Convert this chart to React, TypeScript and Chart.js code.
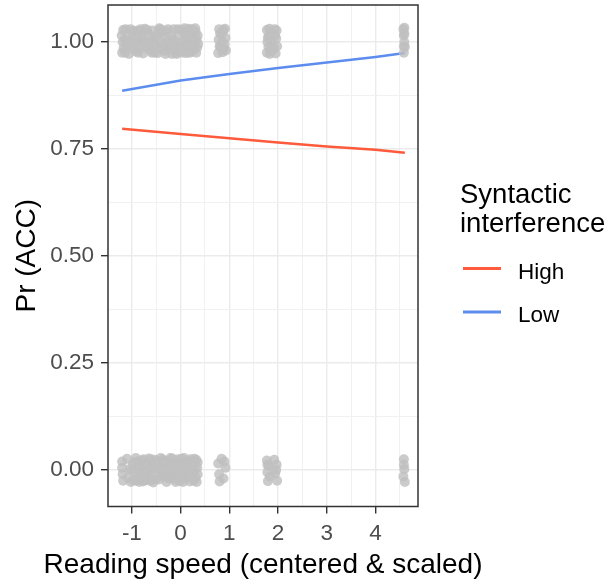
import React, { useEffect, useRef } from 'react';
import { Chart, registerables } from 'chart.js';

Chart.register(...registerables);

const FONT = '"Liberation Sans", Arial, "DejaVu Sans", sans-serif';

// ---- axis / text ----
const X_TITLE = 'Reading speed (centered & scaled)';
const Y_TITLE = 'Pr (ACC)';
const LEGEND_TITLE = ['Syntactic', 'interference'];
const SERIES_NAMES = ['High', 'Low'];
const SERIES_COLORS = ['#FF5A3C', '#5C8DEE'];

const X_MIN = -1.49;
const X_MAX = 4.87;
const Y_MIN = -0.0853;
const Y_MAX = 1.0864;
const xGridValues = [-1, -0.5, 0, 0.5, 1, 1.5, 2, 2.5, 3, 3.5, 4, 4.5];
const xTickLabels = ['-1', '0', '1', '2', '3', '4'];
const yGridValues = [0, 0.125, 0.25, 0.375, 0.5, 0.625, 0.75, 0.875, 1];
const yTickLabels = ['0.00', '0.25', '0.50', '0.75', '1.00'];

// ---- fitted lines ----
const lineX = [-1.2, 0, 1, 2, 3, 4, 4.6];
const highY = [0.797, 0.785, 0.775, 0.765, 0.756, 0.748, 0.741];
const lowY = [0.886, 0.91, 0.925, 0.939, 0.952, 0.965, 0.974];

// ---- jittered raw observations (ACC = 1) ----
const correctPoints: [number, number][] = [
  [-1.2, 0.975], [-1.19, 1.0], [-1.18, 1.028], [-1.12, 0.988], [-1.1, 1.015], [-1.06, 0.972],
  [-1.03, 1.03], [-0.98, 0.995], [-0.95, 1.012], [-0.92, 0.978], [-0.88, 1.026], [-0.84, 0.99],
  [-0.8, 1.008], [-0.77, 0.973], [-0.73, 1.031], [-0.7, 0.996], [-0.66, 1.018], [-0.62, 0.98],
  [-0.58, 1.027], [-0.55, 0.992], [-0.51, 1.01], [-0.47, 0.974], [-0.44, 1.032], [-0.4, 0.998],
  [-0.36, 1.016], [-0.33, 0.979], [-0.29, 1.025], [-0.25, 0.988], [-0.21, 1.006], [-0.18, 0.972],
  [-0.14, 1.03], [-0.1, 0.994], [-0.06, 1.014], [-0.03, 0.977], [0.01, 1.028], [0.05, 0.99],
  [0.09, 1.009], [0.12, 0.974], [0.16, 1.031], [0.2, 0.997], [0.24, 1.017], [0.27, 0.981],
  [0.31, 1.024], [0.34, 0.987], [0.33, 1.005], [-1.15, 1.005], [-1.01, 0.985], [-0.86, 1.003],
  [-0.68, 0.985], [-0.53, 0.975], [-0.38, 1.021], [-0.23, 0.983], [-0.08, 0.972], [0.07, 1.022],
  [0.22, 0.978], [0.3, 1.032], [-1.17, 0.985], [-0.97, 1.026], [-0.75, 1.0], [-0.6, 1.004],
  [-0.42, 0.985], [-0.27, 1.0], [-0.12, 1.002], [0.03, 1.0], [0.18, 1.005], [0.28, 1.0],
  [-1.21, 1.015], [-1.14, 0.975], [-1.13, 1.03], [-1.08, 1.0], [-1.04, 0.99], [-0.99, 1.01],
  [-0.93, 1.0], [-0.9, 0.985], [-0.87, 0.975], [-0.82, 1.03], [-0.78, 1.018], [-0.72, 0.988],
  [-0.69, 1.028], [-0.64, 1.0], [-0.59, 0.975], [-0.56, 1.012], [-0.49, 0.99], [-0.46, 1.02],
  [-0.41, 1.03], [-0.35, 0.995], [-0.31, 0.972], [-0.26, 1.03], [-0.19, 1.015], [-0.16, 0.99],
  [-0.11, 0.975], [-0.05, 1.03], [-0.01, 0.99], [0.04, 0.975], [0.08, 1.032], [0.11, 0.995],
  [0.14, 1.012], [0.19, 0.975], [0.23, 1.03], [0.26, 1.005], [0.32, 0.975], [0.35, 1.015],
  [0.36, 0.995],
  [0.77, 0.974], [0.78, 1.005], [0.79, 1.03], [0.82, 0.988], [0.84, 1.018], [0.86, 0.976],
  [0.88, 1.028], [0.9, 0.995], [0.92, 1.01], [0.93, 0.98], [0.8, 0.99], [0.91, 1.031],
  [0.85, 1.0], [0.81, 1.02], [0.89, 0.985],
  [1.77, 0.975], [1.78, 1.0], [1.77, 1.028], [1.8, 0.988], [1.81, 1.015], [1.83, 0.972],
  [1.82, 1.031], [1.92, 0.985], [1.93, 1.03], [1.95, 0.973], [1.96, 1.008], [1.98, 0.99],
  [1.97, 1.027], [1.87, 1.0], [1.88, 0.98], [1.79, 1.01], [1.94, 1.015], [1.85, 0.99],
  [4.58, 0.975], [4.59, 1.0], [4.57, 1.03], [4.6, 0.988], [4.58, 1.015], [4.59, 1.033],
  [4.58, 0.99], [4.59, 1.02],
];

// ---- jittered raw observations (ACC = 0) ----
const errorPoints: [number, number][] = [
  [-1.2, 0.02], [-1.19, -0.01], [-1.18, -0.025], [-1.2, 0.005], [-1.1, 0.026], [-1.08, -0.018],
  [-1.05, 0.002], [-1.02, -0.028], [-0.98, 0.015], [-0.95, -0.005], [-0.92, 0.028], [-0.89, -0.02],
  [-0.86, 0.008], [-0.83, -0.012], [-0.8, 0.022], [-0.77, -0.027], [-0.74, 0.0], [-0.71, 0.018],
  [-0.68, -0.015], [-0.65, 0.027], [-0.62, -0.006], [-0.59, 0.012], [-0.56, -0.029], [-0.53, 0.024],
  [-0.5, -0.01], [-0.47, 0.004], [-0.44, -0.022], [-0.41, 0.028], [-0.38, 0.01], [-0.35, -0.016],
  [-0.32, 0.021], [-0.29, -0.028], [-0.26, 0.002], [-0.23, 0.016], [-0.2, -0.008], [-0.17, 0.027],
  [-0.14, -0.021], [-0.11, 0.009], [-0.08, -0.002], [-0.05, 0.025], [-0.02, -0.026], [0.01, 0.012],
  [0.04, -0.012], [0.07, 0.028], [0.1, -0.02], [0.13, 0.004], [0.16, 0.02], [0.19, -0.027],
  [0.22, 0.01], [0.25, -0.008], [0.28, 0.026], [0.31, -0.018], [0.34, 0.005], [0.33, -0.028],
  [0.32, 0.024], [-0.97, -0.024], [-0.88, 0.02], [-0.72, -0.024], [-0.61, 0.025], [-0.48, 0.02],
  [-0.33, -0.005], [-0.18, 0.008], [-0.07, -0.015], [0.06, 0.005], [0.2, 0.025], [0.27, -0.025],
  [-0.85, -0.028], [-0.66, 0.005], [-0.52, -0.022], [-0.4, -0.01], [-0.24, -0.02], [-0.12, 0.02],
  [0.0, -0.018], [0.15, -0.01],
  [-1.0, 0.0], [-0.94, 0.018], [-0.91, -0.025], [-0.82, 0.005], [-0.79, -0.005], [-0.76, 0.025],
  [-0.7, -0.008], [-0.63, -0.025], [-0.57, 0.005], [-0.54, 0.015], [-0.45, 0.012], [-0.42, -0.002],
  [-0.37, 0.025], [-0.3, 0.01], [-0.27, -0.015], [-0.21, 0.028], [-0.15, 0.0], [-0.1, -0.028],
  [-0.04, 0.005], [0.02, 0.026], [0.05, -0.028], [0.09, 0.015], [0.12, -0.005], [0.17, -0.015],
  [0.21, -0.01], [0.24, 0.018], [0.29, 0.0], [0.35, -0.01], [0.35, 0.018],
  [0.77, 0.015], [0.79, -0.01], [0.84, 0.026], [0.88, -0.02], [0.92, 0.005], [0.9, 0.02], [0.8, -0.027],
  [1.77, 0.022], [1.78, -0.005], [1.79, -0.026], [1.81, 0.01], [1.83, -0.015], [1.92, 0.024],
  [1.94, -0.008], [1.97, 0.012], [1.98, -0.025], [1.96, 0.0], [1.78, 0.012],
  [4.58, 0.025], [4.59, 0.002], [4.57, -0.015], [4.6, -0.028], [4.58, 0.012],
];

const isMajorY = (v: number) => Math.abs(v * 4 - Math.round(v * 4)) < 1e-6;

const overlayPlugin = {
  id: 'overlay',
  afterDraw(chart: any) {
    const { ctx, chartArea: a } = chart;
    ctx.save();
    // panel border
    ctx.strokeStyle = '#333333';
    ctx.lineWidth = 1.5;
    ctx.strokeRect(a.left, a.top, a.right - a.left, a.bottom - a.top);

    // axis titles
    ctx.fillStyle = '#000000';
    ctx.font = `28px ${FONT}`;
    ctx.textAlign = 'center';
    ctx.textBaseline = 'alphabetic';
    ctx.fillText(X_TITLE, (a.left + a.right) / 2, 573);
    ctx.save();
    ctx.translate(35, (a.top + a.bottom) / 2);
    ctx.rotate(-Math.PI / 2);
    ctx.fillText(Y_TITLE, 0, 0);
    ctx.restore();

    // legend
    ctx.font = `27.5px ${FONT}`;
    ctx.textAlign = 'left';
    ctx.fillText(LEGEND_TITLE[0], 460, 203);
    ctx.fillText(LEGEND_TITLE[1], 460, 232);
    const keyY = [268.5, 312];
    const labY = [279, 322];
    ctx.font = `22.5px ${FONT}`;
    SERIES_NAMES.forEach((name, i) => {
      ctx.strokeStyle = SERIES_COLORS[i];
      ctx.lineWidth = 3;
      ctx.beginPath();
      ctx.moveTo(463, keyY[i]);
      ctx.lineTo(501, keyY[i]);
      ctx.stroke();
      ctx.fillStyle = '#000000';
      ctx.fillText(name, 518, labY[i]);
    });
    ctx.restore();
  },
};

export default function App() {
  const ref = useRef<HTMLCanvasElement | null>(null);

  useEffect(() => {
    if (!ref.current) return;
    Chart.defaults.font.family = FONT;
    const pointStyle = {
      pointRadius: 5,
      pointBackgroundColor: 'rgba(191,191,191,0.82)',
      pointBorderWidth: 0,
      backgroundColor: 'rgba(191,191,191,0.82)',
      borderWidth: 0,
      showLine: false,
      order: 0,
    };
    const chart = new Chart(ref.current, {
      type: 'scatter',
      data: {
        datasets: [
          {
            label: 'ACC = 1',
            data: correctPoints.map(([x, y]) => ({ x, y })),
            ...pointStyle,
          },
          {
            label: 'ACC = 0',
            data: errorPoints.map(([x, y]) => ({ x, y })),
            ...pointStyle,
          },
          {
            label: SERIES_NAMES[0],
            data: lineX.map((x, i) => ({ x, y: highY[i] })),
            showLine: true,
            borderColor: SERIES_COLORS[0],
            borderWidth: 2.5,
            pointRadius: 0,
            order: 1,
          },
          {
            label: SERIES_NAMES[1],
            data: lineX.map((x, i) => ({ x, y: lowY[i] })),
            showLine: true,
            borderColor: SERIES_COLORS[1],
            borderWidth: 2.5,
            pointRadius: 0,
            order: 1,
          },
        ],
      },
      options: {
        responsive: false,
        animation: false,
        devicePixelRatio: 1,
        layout: { padding: { left: 0, top: 5, right: 197, bottom: 0 } },
        plugins: { legend: { display: false }, tooltip: { enabled: false } },
        scales: {
          x: {
            type: 'linear',
            min: X_MIN,
            max: X_MAX,
            afterBuildTicks: (s: any) => {
              s.ticks = xGridValues.map((v) => ({ value: v }));
            },
            afterFit: (s: any) => {
              s.height = 77.5;
              s.paddingLeft = 0;
              s.paddingRight = 0;
            },
            border: { display: false },
            grid: {
              color: (c: any) => (Number.isInteger(c.tick?.value) ? '#EBEBEB' : '#F1F1F1'),
              lineWidth: (c: any) => (Number.isInteger(c.tick?.value) ? 1.4 : 1),
              tickColor: (c: any) => (Number.isInteger(c.tick?.value) ? '#333333' : 'rgba(0,0,0,0)'),
              tickLength: 7,
              tickWidth: 1.4,
            },
            ticks: {
              autoSkip: false,
              maxRotation: 0,
              padding: 7,
              color: '#4D4D4D',
              font: { size: 22.5 },
              callback: (v: any) => {
                const idx = [-1, 0, 1, 2, 3, 4].indexOf(Number(v));
                return idx >= 0 ? xTickLabels[idx] : '';
              },
            },
          },
          y: {
            type: 'linear',
            min: Y_MIN,
            max: Y_MAX,
            afterBuildTicks: (s: any) => {
              s.ticks = yGridValues.map((v) => ({ value: v }));
            },
            afterFit: (s: any) => {
              s.width = 108;
              s.paddingTop = 0;
              s.paddingBottom = 0;
            },
            border: { display: false },
            grid: {
              color: (c: any) => (isMajorY(c.tick?.value ?? 0.1) ? '#EBEBEB' : '#F1F1F1'),
              lineWidth: (c: any) => (isMajorY(c.tick?.value ?? 0.1) ? 1.4 : 1),
              tickColor: (c: any) => (isMajorY(c.tick?.value ?? 0.1) ? '#333333' : 'rgba(0,0,0,0)'),
              tickLength: 7,
              tickWidth: 1.4,
            },
            ticks: {
              autoSkip: false,
              padding: 7,
              color: '#4D4D4D',
              font: { size: 22.5 },
              callback: (v: any) => {
                const n = Number(v);
                if (!isMajorY(n)) return '';
                return yTickLabels[Math.round(n * 4)];
              },
            },
          },
        },
      },
      plugins: [overlayPlugin],
    });
    return () => chart.destroy();
  }, []);

  return (
    <div style={{ position: 'absolute', left: 0, top: 0, width: 615, height: 584, background: '#fff' }}>
      <canvas ref={ref} width={615} height={584} />
    </div>
  );
}
